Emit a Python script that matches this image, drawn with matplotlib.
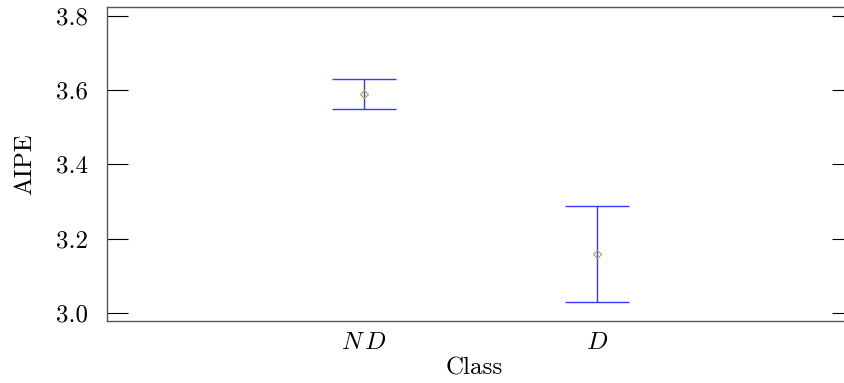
"""
AIPE per class: mean with error bars (ND vs D).
"""
import numpy as np
import matplotlib
matplotlib.use("Agg")  # headless
import matplotlib.pyplot as plt

plt.rcParams["font.family"] = "serif"
plt.rcParams["font.serif"] = ["cmr10", "DejaVu Serif"]
plt.rcParams["mathtext.fontset"] = "cm"
plt.rcParams["axes.formatter.use_mathtext"] = True

classes = [r"$N\,D$", "$D$"]
positions = [1, 2]
means = [3.588, 3.158]
upper = [3.628, 3.287]
lower = [3.548, 3.030]

means = np.array(means)
yerr = np.array([means - np.array(lower), np.array(upper) - means])

fig = plt.figure(figsize=(8.45, 3.83), dpi=100)
# right spine sits just past the image edge, as in the reference
ax = fig.add_axes([107 / 845, 1 - 321 / 383, (853 - 107) / 845, (321 - 7) / 383])

ax.errorbar(positions, means, yerr=yerr, fmt="none", ecolor="#3a3aff",
            elinewidth=1.0, capsize=23, capthick=1.0)
ax.plot(positions, means, linestyle="none", marker="D", markersize=4,
        markerfacecolor="none", markeredgecolor="#b0ac50", markeredgewidth=0.9)

ax.set_xlim(-0.103, 3.099)
ax.set_ylim(2.978, 3.823)
ax.set_xticks(positions)
ax.set_xticklabels(classes)
ax.set_yticks([3.0, 3.2, 3.4, 3.6, 3.8])
ax.set_yticklabels(["3.0", "3.2", "3.4", "3.6", "3.8"])

ax.tick_params(axis="y", direction="in", length=15, width=0.8, labelsize=18,
               left=True, right=True, pad=14)
ax.tick_params(axis="x", length=0, labelsize=18, pad=8)

for s in ax.spines.values():
    s.set_color("#555555")
    s.set_linewidth(1.0)

ax.set_xlabel("Class", fontsize=18, labelpad=4)
ax.xaxis.set_label_coords(0.492, -0.115)
ax.set_ylabel("AIPE", fontsize=18, labelpad=14)

fig.savefig("out.png", dpi=100)
